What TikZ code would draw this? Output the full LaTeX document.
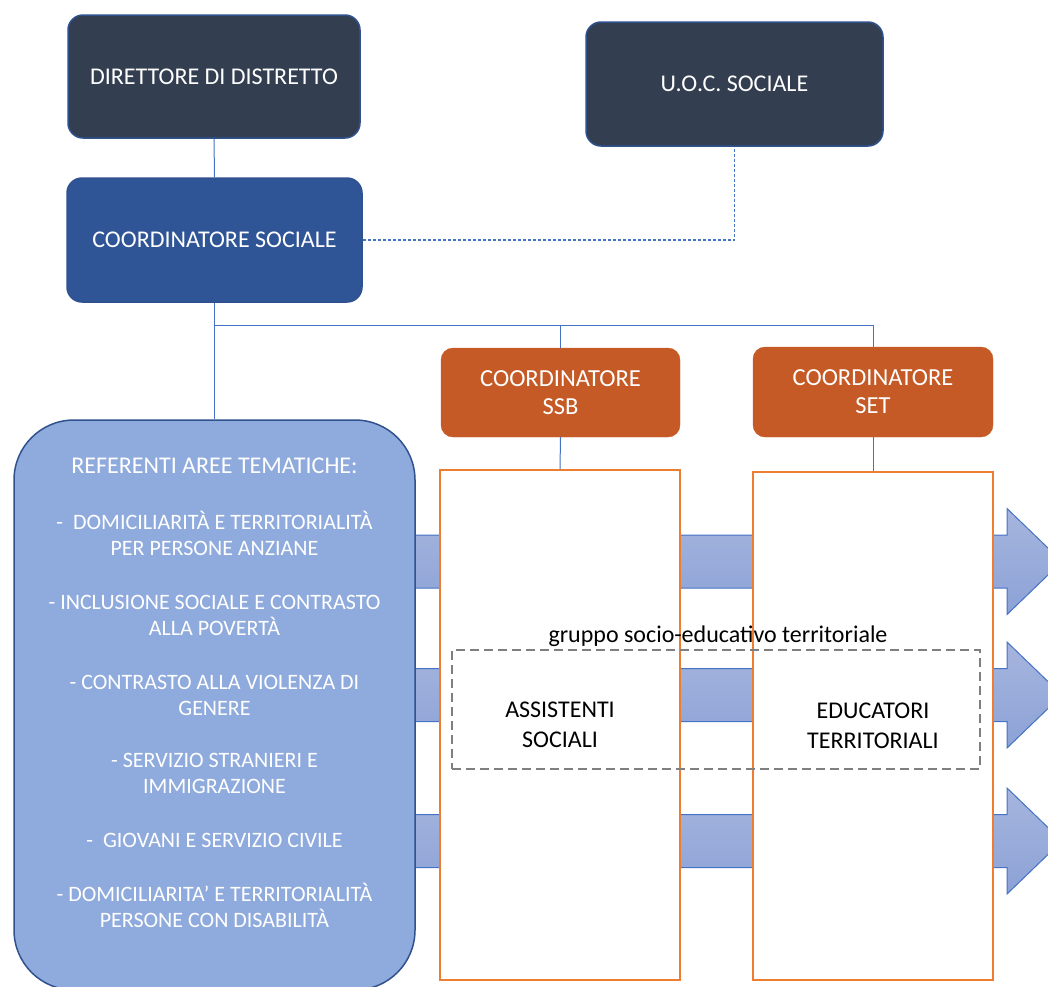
\documentclass[tikz,border=0pt]{standalone}
\usepackage{fontspec}
\setmainfont{Carlito}
\definecolor{darkbox}{HTML}{333F50}
\definecolor{socbox}{HTML}{2F5597}
\definecolor{boxline}{HTML}{2F528F}
\definecolor{orangebox}{HTML}{C55A26}
\definecolor{orangeline}{HTML}{ED7D31}
\definecolor{refbox}{HTML}{8FAADC}
\definecolor{linkblue}{HTML}{4472C4}
\definecolor{arrowtop}{HTML}{A6B5DE}
\definecolor{arrowbot}{HTML}{8CA2D6}
\definecolor{groupgray}{HTML}{7F7F7F}
\begin{document}
\begin{tikzpicture}[x=1pt,y=-1pt,
  topbox/.style={rectangle, rounded corners=15pt, draw=boxline, line width=1.5pt,
    text=white, align=center, font=\fontsize{24}{28}\selectfont},
  subbox/.style={rectangle, rounded corners=12pt, fill=orangebox, draw=orangebox,
    text=white, align=center, font=\fontsize{24.5}{28}\selectfont},
  staffbox/.style={rectangle, draw=orangeline, line width=2pt, fill=white,
    align=center, font=\fontsize{24}{30}\selectfont},
  link/.style={draw=linkblue, line width=1pt},
  dotlink/.style={draw=linkblue, line width=1.2pt, dash pattern=on 3pt off 2pt},
  bandarrow/.style={top color=arrowtop, bottom color=arrowbot, draw=linkblue, line width=1pt}]
\clip (0,0) rectangle (1048,986);
\useasboundingbox (0,0) rectangle (1048,986);
% frecce orizzontali
\foreach \cy in {561.5,695,841} {
  \path[bandarrow] (400,\cy-26.5) -- (1007,\cy-26.5) -- (1007,\cy-53) -- (1062,\cy)
    -- (1007,\cy+53) -- (1007,\cy+26.5) -- (400,\cy+26.5) -- cycle;
}
% vertici
\node[topbox, fill=darkbox, minimum width=292pt, minimum height=123pt] (dir) at (214,76.5) {DIRETTORE DI DISTRETTO};
\node[topbox, fill=darkbox, minimum width=297pt, minimum height=124pt] (uoc) at (734.5,84) {U.O.C. SOCIALE};
\node[topbox, fill=socbox, minimum width=295pt, minimum height=124pt] (soc) at (214.5,240) {COORDINATORE SOCIALE};
\node[subbox, minimum width=239pt, minimum height=89pt] (ssb) at (560.5,392.5) {COORDINATORE\\SSB};
\node[subbox, minimum width=240pt, minimum height=90pt] (set) at (873,392) {COORDINATORE\\SET};
\node[rectangle, rounded corners=60pt, fill=refbox, draw=boxline, line width=1.5pt,
  minimum width=401pt, minimum height=570pt] (ref) at (214.5,705) {};
\node[text=white, align=center, font=\fontsize{22}{26}\selectfont] (reflist) at (214.5,693) {%
  {\fontsize{24}{26}\selectfont REFERENTI AREE TEMATICHE:}\\[30pt]
  -\ \ DOMICILIARITÀ E TERRITORIALITÀ\\
  PER PERSONE ANZIANE\\[28pt]
  - INCLUSIONE SOCIALE E CONTRASTO\\
  ALLA POVERTÀ\\[28pt]
  - CONTRASTO ALLA VIOLENZA DI\\
  GENERE\\[26pt]
  - SERVIZIO STRANIERI E\\
  IMMIGRAZIONE\\[28pt]
  -\ \ GIOVANI E SERVIZIO CIVILE\\[28pt]
  - DOMICILIARITA' E TERRITORIALITÀ\\
  PERSONE CON DISABILITÀ};
\node[staffbox, minimum width=240pt, minimum height=510pt] (as) at (560,725) {ASSISTENTI\\SOCIALI};
\node[staffbox, minimum width=240pt, minimum height=508pt] (ed) at (873,726) {EDUCATORI\\TERRITORIALI};
\node[rectangle, draw=groupgray, line width=2pt, dash pattern=on 9pt off 5pt,
  minimum width=528pt, minimum height=119pt] (grp) at (716,709.5) {};
\node[font=\fontsize{24}{28}\selectfont, anchor=south, inner sep=2pt] (grplabel) at ([xshift=2pt]grp.north) {gruppo socio-educativo territoriale};
% collegamenti
\coordinate (bus) at (214.5,325);
\draw[link] (dir.south) -- (soc.north);
\draw[link] (soc.south) -- (ref.north);
\draw[link] (bus) -| (ssb.north);
\draw[link] (bus) -| (set.north);
\draw[link] (ssb.south) -- (as.north);
\draw[link] (set.south) -- (ed.north);
\draw[dotlink] (soc.east) -| (uoc.south);
\end{tikzpicture}
\end{document}
